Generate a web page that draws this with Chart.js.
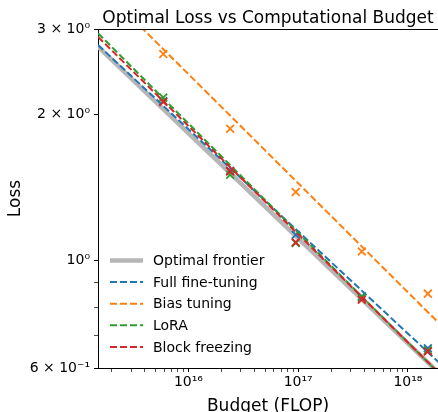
<!DOCTYPE html>
<html>
<head>
<meta charset="utf-8">
<script src="https://cdn.jsdelivr.net/npm/chart.js@4"></script>
<style>
  html, body { margin: 0; padding: 0; background: #fff; }
</style>
</head>
<body>
<canvas id="myChart" width="438" height="412"></canvas>
<script>
// measured points (budget in FLOP, loss)
const budgets = [5.9e15, 2.4e16, 9.5e16, 3.8e17, 1.52e18];
const lossFull = [2.13, 1.53, 1.13, 0.843, 0.659];
const lossBias = [2.665, 1.869, 1.384, 1.043, 0.854];
const lossLora = [2.168, 1.502, 1.086, 0.838, 0.653];
const lossBlock = [2.121, 1.526, 1.09, 0.830, 0.649];

const fitBudgets = [1.5e15, 1.9e18];
const fitFrontier = [2.76, 0.587];
const fitFull = [2.78, 0.617];
const fitBias = [3.71, 0.744];
const fitLora = [2.94, 0.586];
const fitBlock = [2.89, 0.587];

const xMajorTicks = [1e16, 1e17, 1e18];
const xTickLabels = ['10¹⁶', '10¹⁷', '10¹⁸'];
const yTickValues = [0.6, 0.7, 0.8, 0.9, 1, 2, 3];
const yTickLabels = ['6 × 10⁻¹', '', '', '', '10⁰', '2 × 10⁰', '3 × 10⁰'];

const X_MIN = 1.5e15, X_MAX = 1.88e18;
const FONT = 'DejaVu Sans';

function pts(xs, ys) {
    return xs.map((x, i) => ({ x: x, y: ys[i] }));
}

// every decade gets minor ticks at 2..9
let xTickValues = [];
for (let e = 15; e <= 18; e++) {
    for (let m = 1; m < 10; m++) {
        let v = m * Math.pow(10, e);
        if (v >= X_MIN && v <= X_MAX) xTickValues.push(v);
    }
}

function sameVal(a, b) {
    return Math.abs(Math.log10(a) - Math.log10(b)) < 1e-6;
}

function fitLine(label, ys, color, order, width, dash) {
    return {
        label: label, data: pts(fitBudgets, ys), showLine: true,
        borderColor: color, backgroundColor: color, borderWidth: width,
        borderDash: dash, pointRadius: 0, order: order, inLegend: true
    };
}

function marks(ys, color, order) {
    return {
        data: pts(budgets, ys), showLine: false, pointStyle: 'crossRot',
        pointRadius: 5.5, borderWidth: 1.8, borderColor: color,
        backgroundColor: color, order: order, clip: false
    };
}

const dash = [7, 3];
const datasets = [
    fitLine('Optimal frontier', fitFrontier, '#b6b6b6', 20, 4.5, []),
    fitLine('Full fine-tuning', fitFull, '#1f77b4', 9, 2, dash),
    marks(lossFull, '#1f77b4', 8),
    fitLine('Bias tuning', fitBias, '#ff7f0e', 7, 2, dash),
    marks(lossBias, '#ff7f0e', 6),
    fitLine('LoRA', fitLora, '#2ca02c', 5, 2, dash),
    marks(lossLora, '#2ca02c', 4),
    fitLine('Block freezing', fitBlock, '#d62728', 3, 2, dash),
    marks(lossBlock, '#d62728', 2)
];

// title, top spine and the legend inside the axes
const extras = {
    id: 'extras',
    afterDraw(chart) {
        const ctx = chart.ctx;
        const a = chart.chartArea;
        ctx.save();
        ctx.strokeStyle = '#000';
        ctx.lineWidth = 1;
        ctx.beginPath();
        ctx.moveTo(a.left, a.top + 0.5);
        ctx.lineTo(a.right, a.top + 0.5);
        ctx.stroke();

        ctx.fillStyle = '#000';
        ctx.font = '17px "' + FONT + '"';
        ctx.textAlign = 'center';
        ctx.textBaseline = 'alphabetic';
        ctx.fillText('Optimal Loss vs Computational Budget', (a.left + a.right) / 2, a.top - 6);

        const items = chart.data.datasets.filter(d => d.inLegend);
        ctx.font = '14px "' + FONT + '"';
        ctx.textAlign = 'left';
        ctx.textBaseline = 'middle';
        items.forEach((d, i) => {
            let y = a.bottom - 107.5 + i * 21.6;
            ctx.strokeStyle = d.borderColor;
            ctx.lineWidth = d.borderWidth;
            ctx.setLineDash(d.borderDash);
            ctx.beginPath();
            ctx.moveTo(a.left + 12, y);
            ctx.lineTo(a.left + 45, y);
            ctx.stroke();
            ctx.setLineDash([]);
            ctx.fillStyle = '#000';
            ctx.fillText(d.label, a.left + 55, y + 1);
        });
        ctx.restore();
    }
};

const ctx = document.getElementById('myChart').getContext('2d');
const myChart = new Chart(ctx, {
    type: 'scatter',
    data: { datasets: datasets },
    options: {
        responsive: false,
        devicePixelRatio: 1,
        animation: false,
        events: [],
        layout: {
            autoPadding: false,
            padding: { top: 29, right: 0, bottom: 0, left: 0 }
        },
        plugins: {
            legend: { display: false },
            tooltip: { enabled: false }
        },
        scales: {
            x: {
                type: 'logarithmic',
                min: X_MIN,
                max: X_MAX,
                afterBuildTicks: scale => {
                    scale.ticks = xTickValues.map(v => ({ value: v }));
                },
                afterFit: scale => {
                    scale.height = 44;
                    scale.paddingLeft = 0;
                    scale.paddingRight = 0;
                },
                ticks: {
                    autoSkip: false,
                    maxRotation: 0,
                    padding: 2,
                    color: '#000',
                    font: { family: FONT, size: 14 },
                    callback: value => {
                        let i = xMajorTicks.findIndex(t => sameVal(t, value));
                        return i >= 0 ? xTickLabels[i] : '';
                    }
                },
                grid: {
                    drawOnChartArea: false,
                    drawTicks: true,
                    tickLength: 4,
                    tickColor: '#000',
                    tickWidth: c => xMajorTicks.some(t => sameVal(t, c.tick.value)) ? 1 : 0.7
                },
                border: { display: true, color: '#000', width: 1 },
                title: {
                    display: true,
                    text: 'Budget (FLOP)',
                    color: '#000',
                    font: { family: FONT, size: 17 },
                    padding: { top: 0, bottom: -5 }
                }
            },
            y: {
                type: 'logarithmic',
                min: 0.6,
                max: 3,
                afterBuildTicks: scale => {
                    scale.ticks = yTickValues.map(v => ({ value: v }));
                },
                afterFit: scale => {
                    scale.width = 98;
                    scale.paddingTop = 0;
                    scale.paddingBottom = 0;
                },
                ticks: {
                    autoSkip: false,
                    padding: 4,
                    color: '#000',
                    font: { family: FONT, size: 14 },
                    callback: (value, index) => {
                        let i = yTickValues.findIndex(t => sameVal(t, value));
                        return i >= 0 ? yTickLabels[i] : '';
                    }
                },
                grid: {
                    drawOnChartArea: false,
                    drawTicks: true,
                    tickLength: 4,
                    tickColor: '#000',
                    tickWidth: c => (yTickLabels[yTickValues.findIndex(t => sameVal(t, c.tick.value))] || '') !== '' ? 1 : 0.7
                },
                border: { display: true, color: '#000', width: 1 },
                title: {
                    display: true,
                    text: 'Loss',
                    color: '#000',
                    font: { family: FONT, size: 17 },
                    padding: { top: 5, bottom: 0 }
                }
            }
        }
    },
    plugins: [extras]
});
</script>
</body>
</html>
